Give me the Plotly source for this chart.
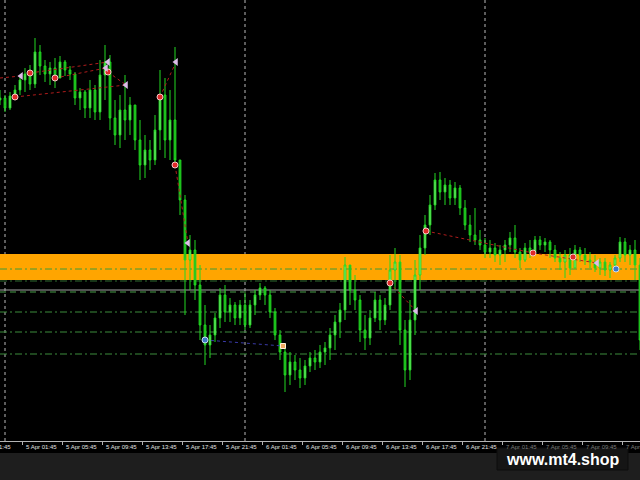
import pandas as pd
import plotly.graph_objects as go

# ---------------- data ----------------
BAR_START = "2024-04-04 23:30"   # first 30-minute bar
BAR_FREQ = "30min"

OPEN = [
    2320.0, 2320.2, 2319.2, 2320.4, 2321.0, 2322.0, 2322.6, 2321.6, 2324.8, 2323.4,
    2322.6, 2323.2, 2322.2, 2323.8, 2323.0, 2322.6, 2320.2, 2320.8, 2319.2, 2321.0,
    2318.8, 2322.5, 2323.8, 2318.2, 2316.5, 2319.0, 2318.0, 2319.5, 2316.0, 2313.5,
    2315.0, 2314.0, 2317.0, 2320.5, 2316.0, 2318.0, 2314.0, 2310.0, 2304.0, 2305.0,
    2301.5, 2297.5, 2295.5, 2296.5, 2298.2, 2300.5, 2298.8, 2299.5, 2298.2, 2299.5,
    2297.5, 2299.5, 2300.5, 2301.2, 2300.5, 2298.8, 2296.5, 2294.8, 2292.5, 2293.8,
    2293.0, 2292.2, 2293.4, 2294.2, 2293.8, 2294.8, 2295.2, 2296.5, 2297.8, 2299.0,
    2303.5, 2301.0, 2300.0, 2297.0, 2296.2, 2298.2, 2300.0, 2298.0, 2299.5, 2303.0,
    2303.8, 2297.0, 2293.0, 2298.0, 2302.5, 2305.2, 2307.5, 2309.5, 2312.0, 2310.8,
    2311.5, 2310.2, 2311.2, 2309.2, 2307.5, 2306.5, 2306.0, 2305.5, 2304.8, 2305.2,
    2304.5, 2305.0, 2305.5, 2306.2, 2304.8, 2304.0, 2305.2, 2304.8, 2306.0, 2305.5,
    2305.8, 2305.0, 2304.2, 2303.8, 2304.5, 2303.2, 2305.0, 2304.5, 2304.0, 2303.8,
    2303.2, 2303.8, 2303.0, 2303.5, 2304.2, 2305.8, 2304.5, 2305.0, 2303.5,
]
HIGH = [
    2321.0, 2320.5, 2320.8, 2321.5, 2322.5, 2323.2, 2323.5, 2326.2, 2325.5, 2324.0,
    2323.8, 2324.2, 2324.4, 2324.0, 2323.4, 2322.8, 2321.2, 2321.0, 2322.0, 2321.5,
    2324.0, 2325.5, 2324.5, 2320.0, 2320.5, 2322.5, 2320.3, 2319.5, 2318.0, 2316.5,
    2316.0, 2318.5, 2323.0, 2322.2, 2321.0, 2325.3, 2314.0, 2310.5, 2306.5, 2306.0,
    2303.5, 2299.5, 2297.5, 2298.7, 2301.2, 2301.5, 2300.2, 2299.8, 2300.0, 2300.7,
    2300.0, 2301.0, 2301.7, 2301.4, 2301.0, 2299.2, 2297.0, 2295.5, 2294.8, 2294.5,
    2294.2, 2294.0, 2294.8, 2295.0, 2295.5, 2295.8, 2297.2, 2298.5, 2299.7, 2304.3,
    2303.5, 2302.5, 2300.5, 2298.5, 2299.0, 2300.8, 2300.5, 2300.2, 2304.5, 2305.2,
    2304.5, 2298.0, 2300.0, 2304.0, 2306.5, 2308.5, 2310.5, 2312.7, 2312.8, 2312.2,
    2312.0, 2311.8, 2311.5, 2310.0, 2308.5, 2309.2, 2307.0, 2306.2, 2306.0, 2305.7,
    2305.5, 2306.0, 2306.8, 2307.5, 2305.2, 2305.7, 2306.0, 2306.4, 2306.4, 2306.2,
    2306.0, 2305.5, 2304.8, 2305.0, 2305.2, 2305.5, 2305.3, 2305.2, 2304.8, 2304.5,
    2304.2, 2304.2, 2303.8, 2304.5, 2306.3, 2306.2, 2305.5, 2306.0, 2304.2,
]
LOW = [
    2319.5, 2318.8, 2319.0, 2320.0, 2320.5, 2320.8, 2321.0, 2321.2, 2322.5, 2321.8,
    2321.5, 2321.2, 2322.2, 2322.4, 2322.0, 2319.5, 2319.0, 2318.2, 2318.2, 2318.0,
    2318.0, 2320.0, 2317.0, 2315.5, 2315.2, 2316.0, 2316.5, 2315.0, 2312.0, 2312.2,
    2313.0, 2313.5, 2315.0, 2314.2, 2314.0, 2313.5, 2308.5, 2298.5, 2301.0, 2300.0,
    2296.0, 2293.5, 2294.2, 2295.8, 2297.2, 2297.8, 2297.8, 2297.5, 2297.5, 2297.0,
    2297.2, 2298.5, 2300.0, 2299.5, 2298.2, 2296.0, 2294.0, 2290.8, 2291.5, 2292.0,
    2291.2, 2291.5, 2292.8, 2293.0, 2293.2, 2293.5, 2294.0, 2295.0, 2296.2, 2298.0,
    2299.5, 2299.0, 2295.8, 2295.0, 2295.5, 2297.8, 2297.0, 2297.5, 2299.0, 2301.0,
    2295.5, 2291.3, 2292.0, 2296.5, 2301.0, 2304.5, 2306.5, 2309.0, 2310.0, 2309.5,
    2309.5, 2309.5, 2308.5, 2307.0, 2305.8, 2305.5, 2305.0, 2304.2, 2304.2, 2303.8,
    2303.5, 2303.8, 2304.8, 2304.2, 2303.2, 2303.8, 2304.2, 2304.8, 2305.0, 2304.8,
    2304.2, 2303.8, 2303.0, 2302.2, 2302.5, 2303.2, 2303.8, 2303.5, 2303.2, 2302.8,
    2302.5, 2302.4, 2302.2, 2302.8, 2303.8, 2303.8, 2303.5, 2302.0, 2295.0,
]
CLOSE = [
    2320.2, 2319.2, 2320.4, 2321.0, 2322.0, 2322.6, 2321.6, 2324.8, 2323.4, 2322.6,
    2323.2, 2322.2, 2323.8, 2323.0, 2322.6, 2320.2, 2320.8, 2319.2, 2321.0, 2318.8,
    2322.5, 2323.8, 2318.2, 2316.5, 2319.0, 2318.0, 2319.5, 2316.0, 2313.5, 2315.0,
    2314.0, 2317.0, 2320.5, 2316.0, 2318.0, 2314.0, 2310.0, 2304.0, 2305.0, 2301.5,
    2297.5, 2295.5, 2296.5, 2298.2, 2300.5, 2298.8, 2299.5, 2298.2, 2299.5, 2297.5,
    2299.5, 2300.5, 2301.2, 2300.5, 2298.8, 2296.5, 2294.8, 2292.5, 2293.8, 2293.0,
    2292.2, 2293.4, 2294.2, 2293.8, 2294.8, 2295.2, 2296.5, 2297.8, 2299.0, 2303.5,
    2301.0, 2300.0, 2297.0, 2296.2, 2298.2, 2300.0, 2298.0, 2299.5, 2303.0, 2303.8,
    2297.0, 2293.0, 2298.0, 2302.5, 2305.2, 2307.5, 2309.5, 2312.0, 2310.8, 2311.5,
    2310.2, 2311.2, 2309.2, 2307.5, 2306.5, 2306.0, 2305.5, 2304.8, 2305.2, 2304.5,
    2305.0, 2305.5, 2306.2, 2304.8, 2304.0, 2305.2, 2304.8, 2306.0, 2305.5, 2305.8,
    2305.0, 2304.2, 2303.8, 2304.5, 2303.2, 2305.0, 2304.5, 2304.0, 2303.8, 2303.2,
    2303.8, 2303.0, 2303.5, 2304.2, 2305.8, 2304.5, 2305.0, 2303.5, 2296.0,
]

# zone and levels
ZONE_LOW, ZONE_HIGH = 2302.0, 2304.6
ZONE_MID = 2303.1
LEVEL_DARK = 2301.9
LEVEL_GREY = 2301.0
LEVELS_GREEN = [2300.8, 2298.8, 2296.8, 2294.6]

DAY_SEPARATORS = ["2024-04-05 00:00", "2024-04-06 00:00", "2024-04-07 00:00"]

TICK_TIMES = [
    "2024-04-05 01:45", "2024-04-05 05:45", "2024-04-05 09:45", "2024-04-05 13:45",
    "2024-04-05 17:45", "2024-04-05 21:45", "2024-04-06 01:45", "2024-04-06 05:45",
    "2024-04-06 09:45", "2024-04-06 13:45", "2024-04-06 17:45", "2024-04-06 21:45",
    "2024-04-07 01:45", "2024-04-07 05:45", "2024-04-07 09:45", "2024-04-07 13:45",
]
TICK_LABELS = [
    "5 Apr 01:45", "5 Apr 05:45", "5 Apr 09:45", "5 Apr 13:45", "5 Apr 17:45",
    "5 Apr 21:45", "6 Apr 01:45", "6 Apr 05:45", "6 Apr 09:45", "6 Apr 13:45",
    "6 Apr 17:45", "6 Apr 21:45", "7 Apr 01:45", "7 Apr 05:45", "7 Apr 09:45",
    "7 Apr 13:45",
]
PREV_LABEL = "4 Apr 21:45"

# signal markers
RED_T = ["2024-04-05 02:30", "2024-04-05 05:00", "2024-04-05 01:00", "2024-04-05 10:18",
         "2024-04-05 15:30", "2024-04-05 17:00", "2024-04-06 14:30", "2024-04-06 18:06",
         "2024-04-07 04:48", "2024-04-07 08:48"]
RED_P = [2322.7, 2322.2, 2320.3, 2322.8, 2320.3, 2313.5, 2301.7, 2306.9, 2304.7, 2304.3]
PINK_T = ["2024-04-05 01:36", "2024-04-05 10:18", "2024-04-05 10:06", "2024-04-05 12:06",
          "2024-04-05 17:06", "2024-04-05 18:18", "2024-04-06 17:06", "2024-04-07 11:12"]
PINK_P = [2322.4, 2323.8, 2323.2, 2321.5, 2323.8, 2305.7, 2298.9, 2303.7]
BLUE_T = ["2024-04-05 20:00", "2024-04-07 13:06"]
BLUE_P = [2296.0, 2303.1]
ORANGE_T = ["2024-04-06 03:48"]
ORANGE_P = [2295.4]

# red dotted connectors (start time, start price, end time, end price)
RED_SEG_T0 = ["2024-04-04 23:30", "2024-04-05 02:30", "2024-04-05 05:00", "2024-04-05 01:00",
              "2024-04-05 10:18", "2024-04-05 15:30", "2024-04-05 17:00", "2024-04-06 14:30",
              "2024-04-06 18:06", "2024-04-07 04:48"]
RED_SEG_P0 = [2322.2, 2322.7, 2322.2, 2320.3, 2322.8, 2320.3, 2313.5, 2301.7, 2306.9, 2304.7]
RED_SEG_T1 = ["2024-04-05 01:36", "2024-04-05 10:18", "2024-04-05 10:06", "2024-04-05 12:06",
              "2024-04-05 12:06", "2024-04-05 17:06", "2024-04-05 18:18", "2024-04-06 17:06",
              "2024-04-07 04:48", "2024-04-07 11:12"]
RED_SEG_P1 = [2322.4, 2323.8, 2323.2, 2321.5, 2321.5, 2323.8, 2305.7, 2298.9, 2304.7, 2303.7]
BLUE_SEG_T = ["2024-04-05 20:00", "2024-04-06 03:48"]
BLUE_SEG_P = [2296.0, 2295.4]

X_RANGE = ["2024-04-04 23:30", "2024-04-07 15:30"]
Y_RANGE = [2285.9, 2330.0]

# ---------------- figure ----------------
times = pd.date_range(BAR_START, periods=len(CLOSE), freq=BAR_FREQ)

fig = go.Figure()

fig.add_trace(go.Candlestick(
    x=times, open=OPEN, high=HIGH, low=LOW, close=CLOSE,
    increasing=dict(line=dict(color="#22d822", width=1), fillcolor="#9cff9c"),
    decreasing=dict(line=dict(color="#22d822", width=1), fillcolor="#18b418"),
    whiskerwidth=0, showlegend=False, hoverinfo="skip",
))

# connectors
sx, sy = [], []
for t0, p0, t1, p1 in zip(RED_SEG_T0, RED_SEG_P0, RED_SEG_T1, RED_SEG_P1):
    sx += [t0, t1, None]
    sy += [p0, p1, None]
fig.add_trace(go.Scatter(x=sx, y=sy, mode="lines", showlegend=False, hoverinfo="skip",
                         line=dict(color="#b01c1c", width=1, dash="dot")))
fig.add_trace(go.Scatter(x=BLUE_SEG_T, y=BLUE_SEG_P, mode="lines", showlegend=False,
                         hoverinfo="skip", line=dict(color="#3a3aa8", width=1, dash="dot")))

# markers
fig.add_trace(go.Scatter(x=RED_T, y=RED_P, mode="markers", showlegend=False, hoverinfo="skip",
                         marker=dict(symbol="circle", size=6, color="#e02a2a",
                                     line=dict(color="#f6c8c8", width=1))))
fig.add_trace(go.Scatter(x=PINK_T, y=PINK_P, mode="markers", showlegend=False, hoverinfo="skip",
                         marker=dict(symbol="triangle-left", size=7, color="#dcbce8",
                                     line=dict(width=0))))
fig.add_trace(go.Scatter(x=BLUE_T, y=BLUE_P, mode="markers", showlegend=False, hoverinfo="skip",
                         marker=dict(symbol="circle", size=6, color="#3c78c8",
                                     line=dict(color="#c8dcf0", width=1))))
fig.add_trace(go.Scatter(x=ORANGE_T, y=ORANGE_P, mode="markers", showlegend=False, hoverinfo="skip",
                         marker=dict(symbol="square", size=5, color="#f0a860",
                                     line=dict(color="#fff0d8", width=1))))

shapes = []
# black strip under the plot holding the time labels
shapes.append(dict(type="rect", xref="paper", yref="paper", x0=0, x1=1, y0=-12 / 441, y1=0,
                   fillcolor="black", line=dict(width=0), layer="below"))
for d in DAY_SEPARATORS:
    shapes.append(dict(type="line", xref="x", yref="paper", x0=d, x1=d, y0=0, y1=1,
                       line=dict(color="#b8b8b8", width=1, dash="dot"), layer="below"))
shapes.append(dict(type="rect", xref="paper", yref="y", x0=0, x1=1, y0=ZONE_LOW, y1=ZONE_HIGH,
                   fillcolor="#ffa500", line=dict(width=0), layer="below"))
shapes.append(dict(type="line", xref="paper", yref="y", x0=0, x1=1, y0=ZONE_MID, y1=ZONE_MID,
                   line=dict(color="#3f9a3a", width=1, dash="7px,3px,2px,3px"), layer="below"))
shapes.append(dict(type="line", xref="paper", yref="y", x0=0, x1=1, y0=LEVEL_DARK, y1=LEVEL_DARK,
                   line=dict(color="#2f6a2f", width=1, dash="7px,3px,2px,3px"), layer="below"))
shapes.append(dict(type="line", xref="paper", yref="y", x0=0, x1=1, y0=LEVEL_GREY, y1=LEVEL_GREY,
                   line=dict(color="#a4a4a4", width=1), layer="below"))
for k, lv in enumerate(LEVELS_GREEN):
    shapes.append(dict(type="line", xref="paper", yref="y", x0=0, x1=1, y0=lv, y1=lv,
                       line=dict(color="#4aa04a" if k == 0 else "#3c8c3c", width=1,
                                 dash="6px,4px" if k == 0 else "7px,3px,2px,3px"),
                       layer="below"))
# watermark box
shapes.append(dict(type="rect", xref="paper", yref="paper", x0=497 / 640, x1=628 / 640,
                   y0=-29 / 441, y1=-7 / 441, fillcolor="#151515",
                   line=dict(color="#0c0c0c", width=1), layer="above"))

annotations = []
lab_font = "Liberation Sans"
for t, lab in zip(TICK_TIMES, TICK_LABELS):
    col = "#7a7a7a" if lab.startswith("7 Apr") else "#e2e2e2"
    annotations.append(dict(x=t, xref="x", y=0, yref="paper", text=lab, showarrow=False,
                            xanchor="left", yanchor="top", xshift=1, yshift=-1,
                            font=dict(family=lab_font, size=6, color=col)))
annotations.append(dict(x=DAY_SEPARATORS[0], xref="x", y=0, yref="paper", text=PREV_LABEL,
                        showarrow=False, xanchor="right", yanchor="top", xshift=8, yshift=-1,
                        font=dict(family=lab_font, size=6, color="#e2e2e2")))
annotations.append(dict(x=562.5 / 640, xref="paper", y=-18 / 441, yref="paper",
                        text="<b>www.mt4.shop</b>", showarrow=False, xanchor="center",
                        yanchor="middle", font=dict(family="Liberation Sans", size=16,
                                                    color="white")))

fig.update_layout(
    width=640, height=480, autosize=False,
    margin=dict(l=0, r=0, t=0, b=39, pad=0),
    paper_bgcolor="#1e1e1e", plot_bgcolor="black",
    boxgap=0.5,
    shapes=shapes, annotations=annotations,
    xaxis=dict(type="date", range=X_RANGE, showgrid=False, zeroline=False,
               rangeslider=dict(visible=False), showline=True, linecolor="#b4b4b4",
               linewidth=1, ticks="outside", ticklen=3, tickcolor="#b4b4b4",
               tickvals=TICK_TIMES, showticklabels=False, fixedrange=True),
    yaxis=dict(range=Y_RANGE, showgrid=False, zeroline=False, showticklabels=False,
               showline=False, ticks="", fixedrange=True),
    showlegend=False,
)

fig.write_html(
    "out.html",
    config={"displayModeBar": False},
    post_script="document.body.style.margin='0';document.body.style.background='#1e1e1e';",
)
